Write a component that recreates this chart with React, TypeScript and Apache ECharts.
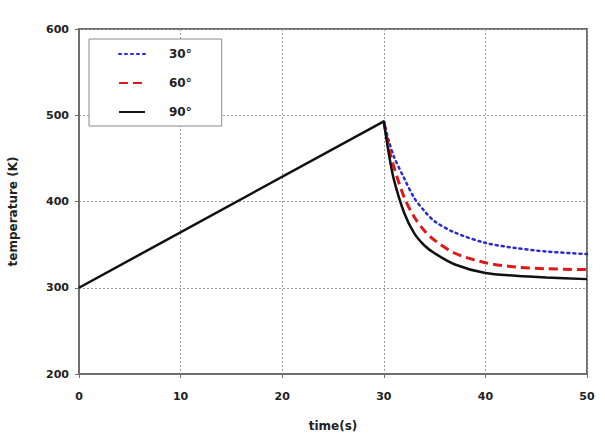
import React, { useEffect, useRef } from "react";
import * as echarts from "echarts";

// Heating phase (shared by all angles)
const heatTimes = [0, 30];
const heatTemps = [300, 493];

// Cooling phase from t = 30 s
const coolTimes = [30, 30.5, 31, 32, 33, 34, 35, 37, 40, 43, 46, 50];
const temp30 = [493, 470, 452, 427, 404, 389, 377, 364, 352, 346, 342, 339];
const temp60 = [493, 462, 440, 405, 382, 366, 355, 340, 329, 324, 322, 321];
const temp90 = [493, 455, 425, 387, 363, 349, 340, 327, 317, 314, 312, 310];

const xTicks = [0, 10, 20, 30, 40, 50];
const yTicks = [200, 300, 400, 500, 600];

const FONT = "'DejaVu Sans', sans-serif";

function pairs(times: number[], temps: number[]): number[][] {
  return times.map((t, i) => [t, temps[i]]);
}

export default function App() {
  const ref = useRef<HTMLDivElement>(null);

  useEffect(() => {
    if (!ref.current) return;
    const chart = echarts.init(ref.current, undefined, { renderer: "svg" });
    const gridLine = { show: true, lineStyle: { color: "#9a9a9a", type: [2, 2] as any, width: 1 } };
    const labelStyle = { color: "#222", fontFamily: FONT, fontWeight: "bold" as const, fontSize: 11 };
    const cooling = (name: string, temps: number[], lineStyle: any, z: number) => ({
      name,
      type: "line",
      showSymbol: false,
      symbol: "none",
      smooth: 0.3,
      data: pairs(coolTimes, temps),
      lineStyle,
      itemStyle: { color: lineStyle.color },
      z,
    });
    chart.setOption({
      animation: false,
      backgroundColor: "#fff",
      grid: {
        left: 79,
        right: 18,
        top: 29,
        bottom: 59,
        show: true,
        borderColor: "#6e6e6e",
        borderWidth: 2,
        outerBoundsMode: "none",
        containLabel: false,
      },
      legend: {
        orient: "vertical",
        left: 89,
        top: 39,
        width: 133,
        padding: [9, 30, 8, 29],
        itemWidth: 26,
        itemHeight: 14,
        itemGap: 17,
        borderColor: "#8a8a8a",
        borderWidth: 1,
        backgroundColor: "#fff",
        itemStyle: { opacity: 0 },
        textStyle: { ...labelStyle, fontSize: 12, padding: [0, 0, 0, 19] },
        data: ["30°", "60°", "90°"],
      },
      xAxis: {
        type: "value",
        min: xTicks[0],
        max: xTicks[xTicks.length - 1],
        interval: 10,
        name: "time(s)",
        nameLocation: "middle",
        nameGap: 46,
        nameTextStyle: { ...labelStyle, fontSize: 12 },
        axisLine: { show: true, lineStyle: { color: "#6e6e6e", width: 2 } },
        axisTick: { show: true, length: 4, lineStyle: { color: "#6e6e6e" } },
        axisLabel: { ...labelStyle, margin: 17 },
        splitLine: gridLine,
      },
      yAxis: {
        type: "value",
        min: yTicks[0],
        max: yTicks[yTicks.length - 1],
        interval: 100,
        name: "temperature (K)",
        nameLocation: "middle",
        nameGap: 60,
        nameTextStyle: { ...labelStyle, fontSize: 12, padding: [0, 20, 0, 0] },
        axisLine: { show: true, lineStyle: { color: "#6e6e6e", width: 2 } },
        axisTick: { show: true, length: 4, lineStyle: { color: "#6e6e6e" } },
        axisLabel: { ...labelStyle, margin: 10 },
        splitLine: gridLine,
      },
      series: [
        cooling("30°", temp30, { color: "#2b2bd6", width: 2.5, type: [2, 4], cap: "round" }, 2),
        cooling("60°", temp60, { color: "#e01818", width: 3, type: [9, 5] }, 3),
        cooling("90°", temp90, { color: "#111", width: 2.5 }, 4),
        {
          name: "heating",
          type: "line",
          showSymbol: false,
          symbol: "none",
          data: pairs(heatTimes, heatTemps),
          lineStyle: { color: "#111", width: 2.5 },
          itemStyle: { color: "#111" },
          z: 5,
        },
      ],
    });
    return () => chart.dispose();
  }, []);

  return <div ref={ref} style={{ width: 605, height: 433, position: "absolute", left: 0, top: 0 }} />;
}
